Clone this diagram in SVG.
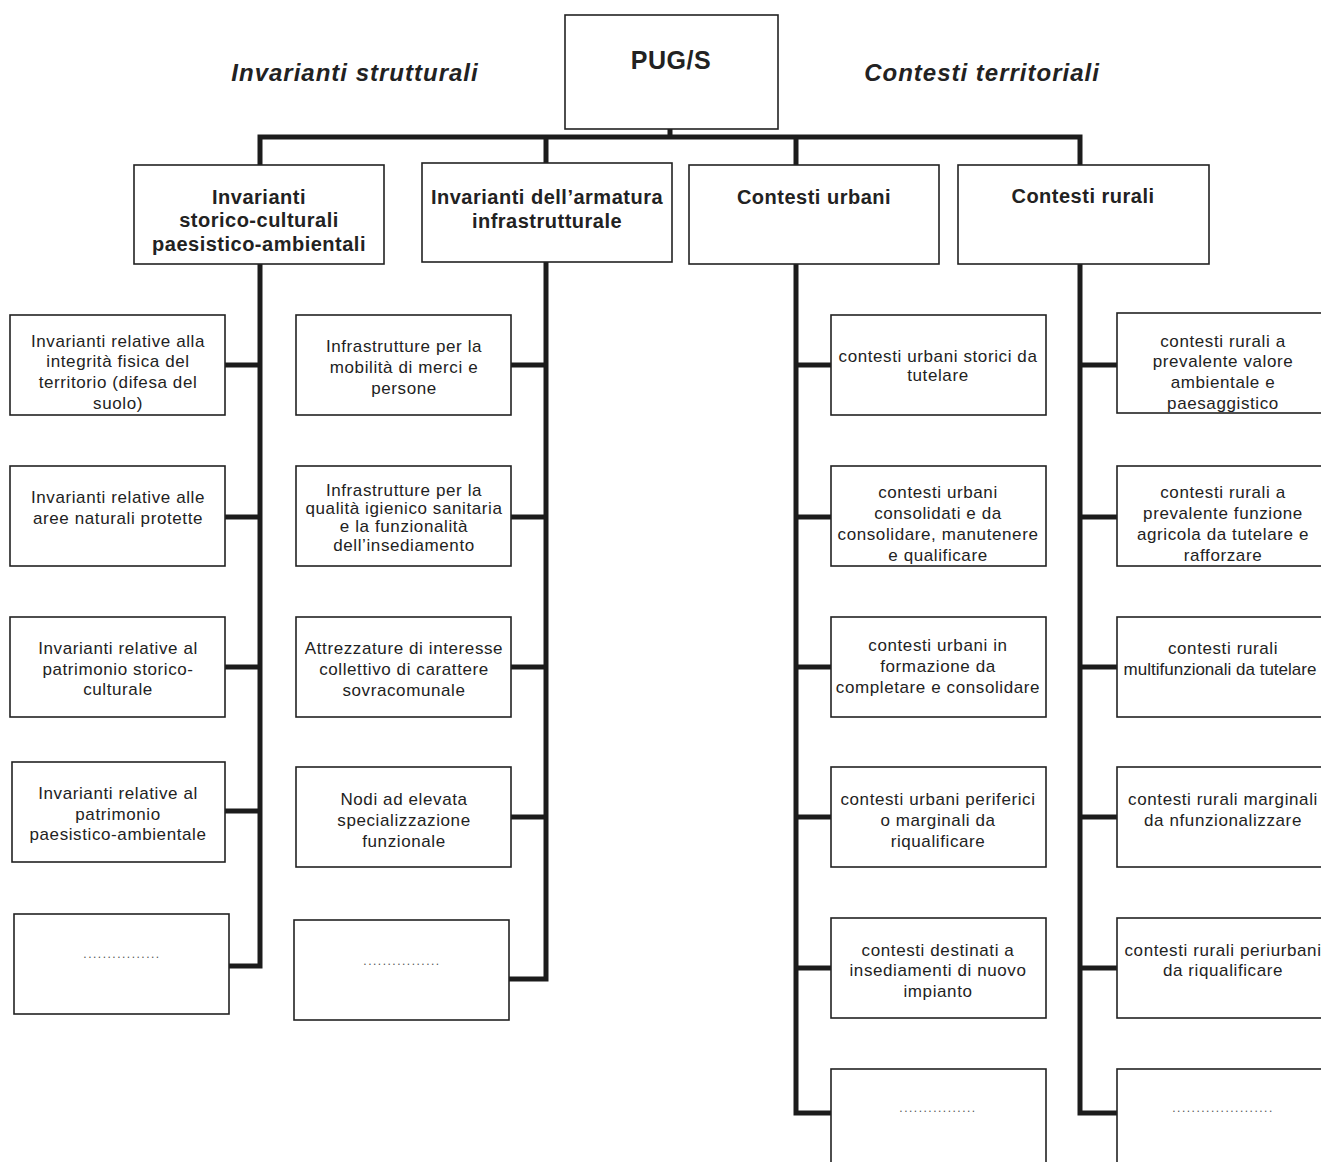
<svg xmlns="http://www.w3.org/2000/svg" width="1321" height="1162" viewBox="0 0 1321 1162">
<style>
.bx{fill:#fff;stroke:#222;stroke-width:1.6}
.t{font-family:"Liberation Sans",Arial,sans-serif;font-size:17px;letter-spacing:0.6px;fill:#222;text-anchor:middle}
.h{font-family:"Liberation Sans",Arial,sans-serif;font-size:20px;font-weight:bold;letter-spacing:0.5px;fill:#222;text-anchor:middle}
.ti{font-family:"Liberation Sans",Arial,sans-serif;font-size:24px;font-weight:bold;font-style:italic;letter-spacing:1px;fill:#222;text-anchor:middle}
.dots{font-family:"Liberation Sans",Arial,sans-serif;font-size:12px;letter-spacing:1.5px;fill:#555;text-anchor:middle}
.c{fill:none;stroke:#1c1c1c;stroke-width:5;stroke-linejoin:miter;stroke-linecap:square}
</style>
<rect width="1321" height="1162" fill="#fff"/>
<text class="ti" x="355" y="81">Invarianti strutturali</text>
<text class="ti" x="982" y="81">Contesti territoriali</text>
<g id="connectors">
<path class="c" d="M670 129V137M260 165V137H1080V165M546 137V163M796 137V165"/>
<path class="c" d="M260 264V966H229M225 365H260M225 517H260M225 667H260M225 811H260"/>
<path class="c" d="M546 262V979H511M511 365H546M511 517H546M511 667H546M511 817H546"/>
<path class="c" d="M796 264V1113H831M796 365H831M796 517H831M796 667H831M796 817H831M796 968H831"/>
<path class="c" d="M1080 264V1113H1117M1080 365H1117M1080 517H1117M1080 667H1117M1080 817H1117M1080 968H1117"/>
</g>
<g id="pugs"><rect class="bx" x="565" y="15" width="213" height="114"/><text class="h" style="font-size:25px" x="671" y="69">PUG/S</text></g>
<g id="inv-storico"><rect class="bx" x="134" y="165" width="250" height="99"/><text class="h" x="259" y="204">Invarianti</text><text class="h" x="259" y="227">storico-culturali</text><text class="h" x="259" y="251">paesistico-ambientali</text></g>
<g id="inv-armatura"><rect class="bx" x="422" y="163" width="250" height="99"/><text class="h" x="547" y="204">Invarianti dell’armatura</text><text class="h" x="547" y="228">infrastrutturale</text></g>
<g id="contesti-urbani"><rect class="bx" x="689" y="165" width="250" height="99"/><text class="h" x="814" y="204">Contesti urbani</text></g>
<g id="contesti-rurali"><rect class="bx" x="958" y="165" width="251" height="99"/><text class="h" x="1083" y="203">Contesti rurali</text></g>

<g id="l1"><rect class="bx" x="10" y="315" width="215" height="100"/><text class="t" x="118" y="347">Invarianti relative alla</text><text class="t" x="118" y="367">integrità fisica del</text><text class="t" x="118" y="388">territorio (difesa del</text><text class="t" x="118" y="409">suolo)</text></g>
<g id="l2"><rect class="bx" x="10" y="466" width="215" height="100"/><text class="t" x="118" y="503">Invarianti relative alle</text><text class="t" x="118" y="524">aree naturali protette</text></g>
<g id="l3"><rect class="bx" x="10" y="617" width="215" height="100"/><text class="t" x="118" y="654">Invarianti relative al</text><text class="t" x="118" y="675">patrimonio storico-</text><text class="t" x="118" y="695">culturale</text></g>
<g id="l4"><rect class="bx" x="12" y="762" width="213" height="100"/><text class="t" x="118" y="799">Invarianti relative al</text><text class="t" x="118" y="820">patrimonio</text><text class="t" x="118" y="840">paesistico-ambientale</text></g>
<g id="l5"><rect class="bx" x="14" y="914" width="215" height="100"/><text class="dots" x="122" y="958">................</text></g>

<g id="b1"><rect class="bx" x="296" y="315" width="215" height="100"/><text class="t" x="404" y="352">Infrastrutture per la</text><text class="t" x="404" y="373">mobilità di merci e</text><text class="t" x="404" y="394">persone</text></g>
<g id="b2"><rect class="bx" x="296" y="466" width="215" height="100"/><text class="t" x="404" y="496">Infrastrutture per la</text><text class="t" x="404" y="514">qualità igienico sanitaria</text><text class="t" x="404" y="532">e la funzionalità</text><text class="t" x="404" y="551">dell’insediamento</text></g>
<g id="b3"><rect class="bx" x="296" y="617" width="215" height="100"/><text class="t" x="404" y="654">Attrezzature di interesse</text><text class="t" x="404" y="675">collettivo di carattere</text><text class="t" x="404" y="696">sovracomunale</text></g>
<g id="b4"><rect class="bx" x="296" y="767" width="215" height="100"/><text class="t" x="404" y="805">Nodi ad elevata</text><text class="t" x="404" y="826">specializzazione</text><text class="t" x="404" y="847">funzionale</text></g>
<g id="b5"><rect class="bx" x="294" y="920" width="215" height="100"/><text class="dots" x="402" y="965">................</text></g>

<g id="u1"><rect class="bx" x="831" y="315" width="215" height="100"/><text class="t" x="938" y="362">contesti urbani storici da</text><text class="t" x="938" y="381">tutelare</text></g>
<g id="u2"><rect class="bx" x="831" y="466" width="215" height="100"/><text class="t" x="938" y="498">contesti urbani</text><text class="t" x="938" y="519">consolidati e da</text><text class="t" x="938" y="540">consolidare, manutenere</text><text class="t" x="938" y="561">e qualificare</text></g>
<g id="u3"><rect class="bx" x="831" y="617" width="215" height="100"/><text class="t" x="938" y="651">contesti urbani in</text><text class="t" x="938" y="672">formazione da</text><text class="t" x="938" y="693">completare e consolidare</text></g>
<g id="u4"><rect class="bx" x="831" y="767" width="215" height="100"/><text class="t" x="938" y="805">contesti urbani periferici</text><text class="t" x="938" y="826">o marginali da</text><text class="t" x="938" y="847">riqualificare</text></g>
<g id="u5"><rect class="bx" x="831" y="918" width="215" height="100"/><text class="t" x="938" y="956">contesti destinati a</text><text class="t" x="938" y="976">insediamenti di nuovo</text><text class="t" x="938" y="997">impianto</text></g>
<g id="u6"><rect class="bx" x="831" y="1069" width="215" height="110"/><text class="dots" x="938" y="1112">................</text></g>

<g id="r1"><rect class="bx" x="1117" y="313" width="215" height="100"/><text class="t" x="1223" y="347">contesti rurali a</text><text class="t" x="1223" y="367">prevalente valore</text><text class="t" x="1223" y="388">ambientale e</text><text class="t" x="1223" y="409">paesaggistico</text></g>
<g id="r2"><rect class="bx" x="1117" y="466" width="215" height="100"/><text class="t" x="1223" y="498">contesti rurali a</text><text class="t" x="1223" y="519">prevalente funzione</text><text class="t" x="1223" y="540">agricola da tutelare e</text><text class="t" x="1223" y="561">rafforzare</text></g>
<g id="r3"><rect class="bx" x="1117" y="617" width="215" height="100"/><text class="t" x="1223" y="654">contesti rurali</text><text class="t" x="1220" y="675" style="letter-spacing:0px">multifunzionali da tutelare</text></g>
<g id="r4"><rect class="bx" x="1117" y="767" width="215" height="100"/><text class="t" x="1223" y="805">contesti rurali marginali</text><text class="t" x="1223" y="826">da nfunzionalizzare</text></g>
<g id="r5"><rect class="bx" x="1117" y="918" width="215" height="100"/><text class="t" x="1223" y="956">contesti rurali periurbani</text><text class="t" x="1223" y="976">da riqualificare</text></g>
<g id="r6"><rect class="bx" x="1117" y="1069" width="215" height="110"/><text class="dots" x="1223" y="1112">.....................</text></g>
</svg>
